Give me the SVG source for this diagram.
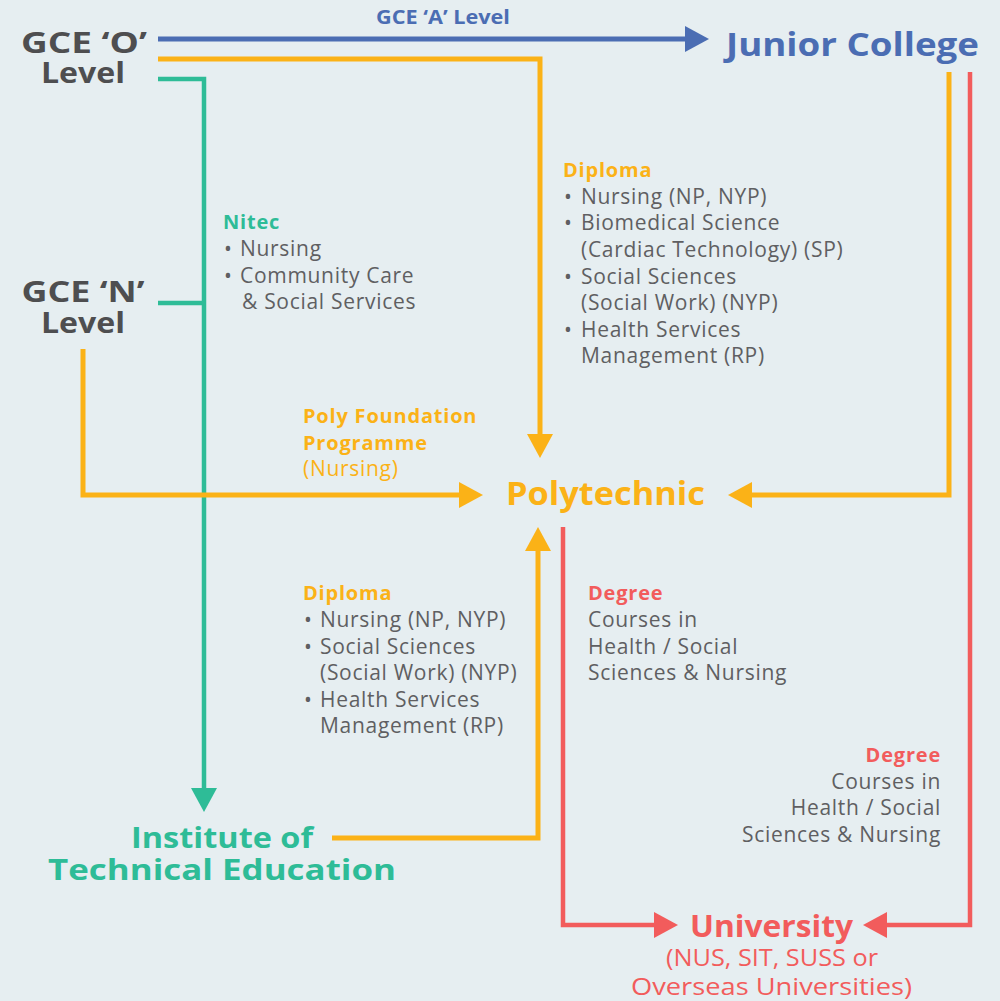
<svg xmlns="http://www.w3.org/2000/svg" width="1000" height="1001" viewBox="0 0 1000 1001">
<style>
.h{font-family:"Open Sans","Liberation Sans",sans-serif;font-weight:700}
.b{font-family:"Open Sans","Liberation Sans",sans-serif;font-size:21px;letter-spacing:0.7px;fill:#5f5f62}
.sh{font-family:"Open Sans","Liberation Sans",sans-serif;font-weight:700;font-size:20px;letter-spacing:0.8px}
.r{font-family:"Open Sans","Liberation Sans",sans-serif}
.gray{fill:#4e4e50}
.blue{fill:#4b6db3}.orange{fill:#fbb217}.green{fill:#2ebc97}.red{fill:#f25c5c}
.ln{fill:none;stroke-linejoin:miter}
</style>
<defs>
<marker id="aB" viewBox="0 0 24 26" refX="10" refY="13" markerWidth="24" markerHeight="26" markerUnits="userSpaceOnUse" orient="auto"><path d="M0,0L24,13L0,26z" fill="#4b6db3"/></marker>
<marker id="aO" viewBox="0 0 24 26" refX="10" refY="13" markerWidth="24" markerHeight="26" markerUnits="userSpaceOnUse" orient="auto"><path d="M0,0L24,13L0,26z" fill="#fbb217"/></marker>
<marker id="aG" viewBox="0 0 24 26" refX="10" refY="13" markerWidth="24" markerHeight="26" markerUnits="userSpaceOnUse" orient="auto"><path d="M0,0L24,13L0,26z" fill="#2ebc97"/></marker>
<marker id="aR" viewBox="0 0 24 26" refX="10" refY="13" markerWidth="24" markerHeight="26" markerUnits="userSpaceOnUse" orient="auto"><path d="M0,0L24,13L0,26z" fill="#f25c5c"/></marker>
</defs>
<rect width="1000" height="1001" fill="#e6eef1"/>
<g id="connectors">
<path class="ln" d="M158,39H695" stroke="#4b6db3" stroke-width="5" marker-end="url(#aB)"/>
<path class="ln" d="M158,59H540V444" stroke="#fbb217" stroke-width="5" marker-end="url(#aO)"/>
<path class="ln" d="M158,79H204V798" stroke="#2ebc97" stroke-width="4.5" marker-end="url(#aG)"/>
<path class="ln" d="M158,303H204" stroke="#2ebc97" stroke-width="4.5"/>
<path class="ln" d="M83,349V495H469" stroke="#fbb217" stroke-width="5" marker-end="url(#aO)"/>
<path class="ln" d="M949,72V495H742" stroke="#fbb217" stroke-width="5" marker-end="url(#aO)"/>
<path class="ln" d="M970,72V925H877" stroke="#f25c5c" stroke-width="4.5" marker-end="url(#aR)"/>
<path class="ln" d="M332,838H538V541" stroke="#fbb217" stroke-width="5" marker-end="url(#aO)"/>
<path class="ln" d="M563,527V925H664" stroke="#f25c5c" stroke-width="4.5" marker-end="url(#aR)"/>
<text class="h blue" font-size="19" x="376" y="24" textLength="134" lengthAdjust="spacingAndGlyphs">GCE ‘A’ Level</text>
</g>
<g id="gce-o">
<text class="h gray" font-size="28" text-anchor="middle" x="84" y="53" textLength="126" lengthAdjust="spacingAndGlyphs">GCE ‘O’</text>
<text class="h gray" font-size="28" text-anchor="middle" x="83" y="83" textLength="84" lengthAdjust="spacingAndGlyphs">Level</text>
</g>
<g id="junior-college">
<text class="h blue" font-size="32" x="726" y="56" textLength="253" lengthAdjust="spacingAndGlyphs">Junior College</text>
</g>
<g id="gce-n">
<text class="h gray" font-size="28" text-anchor="middle" x="83" y="302" textLength="123" lengthAdjust="spacingAndGlyphs">GCE ‘N’</text>
<text class="h gray" font-size="28" text-anchor="middle" x="83" y="333" textLength="84" lengthAdjust="spacingAndGlyphs">Level</text>
</g>
<g id="polytechnic">
<text class="h orange" font-size="32" x="506" y="505" textLength="199" lengthAdjust="spacingAndGlyphs">Polytechnic</text>
</g>
<g id="ite">
<text class="h green" font-size="29" x="131" y="848" textLength="182" lengthAdjust="spacingAndGlyphs">Institute of</text>
<text class="h green" font-size="29" x="48" y="880" textLength="348" lengthAdjust="spacingAndGlyphs">Technical Education</text>
</g>
<g id="university">
<text class="h red" font-size="30" x="690" y="937" textLength="163" lengthAdjust="spacingAndGlyphs">University</text>
<text class="r red" font-size="24" x="666" y="966" textLength="212" lengthAdjust="spacingAndGlyphs">(NUS, SIT, SUSS or</text>
<text class="r red" font-size="24" x="631" y="995" textLength="281" lengthAdjust="spacingAndGlyphs">Overseas Universities)</text>
</g>
<g id="label-diploma-top">
<text class="sh orange" x="563" y="177">Diploma</text>
<text class="b"><tspan x="564" y="204">•</tspan><tspan x="581" y="204">Nursing (NP, NYP)</tspan><tspan x="564" y="230">•</tspan><tspan x="581" y="230">Biomedical Science</tspan><tspan x="581" y="257">(Cardiac Technology) (SP)</tspan><tspan x="564" y="284">•</tspan><tspan x="581" y="284">Social Sciences</tspan><tspan x="581" y="310">(Social Work) (NYP)</tspan><tspan x="564" y="337">•</tspan><tspan x="581" y="337">Health Services</tspan><tspan x="581" y="363">Management (RP)</tspan></text>
</g>
<g id="label-nitec">
<text class="sh green" x="223" y="229">Nitec</text>
<text class="b"><tspan x="224" y="256">•</tspan><tspan x="240" y="256">Nursing</tspan><tspan x="224" y="283">•</tspan><tspan x="240" y="283">Community Care</tspan><tspan x="242" y="309">&amp; Social Services</tspan></text>
</g>
<g id="label-poly-foundation">
<text class="sh orange" x="303" y="423">Poly Foundation</text>
<text class="sh orange" x="303" y="450">Programme</text>
<text class="r orange" font-size="21" letter-spacing="0.7" x="303" y="476">(Nursing)</text>
</g>
<g id="label-diploma-bottom">
<text class="sh orange" x="303" y="600">Diploma</text>
<text class="b"><tspan x="304" y="627">•</tspan><tspan x="320" y="627">Nursing (NP, NYP)</tspan><tspan x="304" y="654">•</tspan><tspan x="320" y="654">Social Sciences</tspan><tspan x="320" y="680">(Social Work) (NYP)</tspan><tspan x="304" y="707">•</tspan><tspan x="320" y="707">Health Services</tspan><tspan x="320" y="733">Management (RP)</tspan></text>
</g>
<g id="label-degree-left">
<text class="sh red" x="588" y="600">Degree</text>
<text class="b"><tspan x="588" y="627">Courses in</tspan><tspan x="588" y="654">Health / Social</tspan><tspan x="588" y="680">Sciences &amp; Nursing</tspan></text>
</g>
<g id="label-degree-right">
<text class="sh red" text-anchor="end" x="941" y="762">Degree</text>
<text class="b" text-anchor="end"><tspan x="941" y="789">Courses in</tspan><tspan x="941" y="815">Health / Social</tspan><tspan x="941" y="842">Sciences &amp; Nursing</tspan></text>
</g>
</svg>
